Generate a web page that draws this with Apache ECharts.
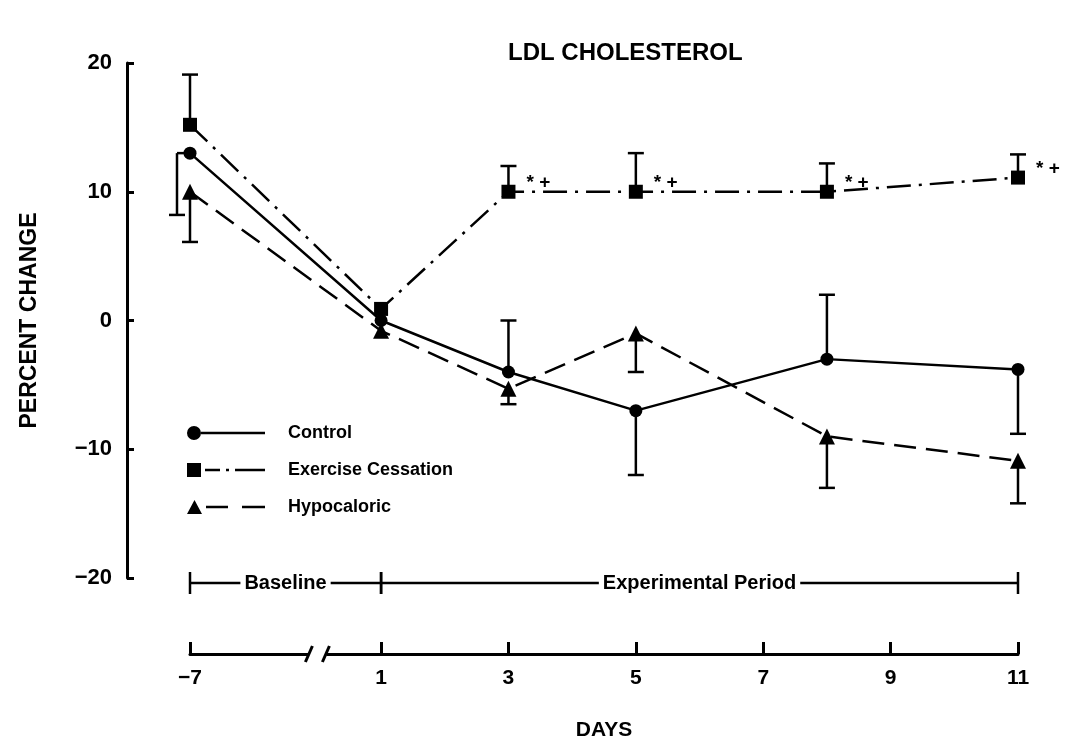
<!DOCTYPE html>
<html>
<head>
<meta charset="utf-8">
<title>LDL Cholesterol</title>
<script src="https://cdn.jsdelivr.net/npm/echarts@6/dist/echarts.min.js"></script>
<style>
  html, body { margin: 0; padding: 0; background: #fff; }
  #chart { width: 1080px; height: 749px; }
</style>
</head>
<body>
<div id="chart"></div>
<script>
// LDL cholesterol, percent change by day
var days = [-7, 1, 3, 5, 8, 11];
var dayTicks = [-7, 1, 3, 5, 7, 9, 11];
var control = [13, 0, -4, -7, -3, -3.8];
var controlErr = [8.2, null, 0, -12, 2, -8.8];
var exercise = [15.2, 0.9, 10, 10, 10, 11.1];
var exerciseErr = [19.1, null, 12, 13, 12.2, 12.9];
var hypo = [10, -0.8, -5.3, -1, -9, -10.9];
var hypoErr = [6.1, null, -6.5, -4, -13, -14.2];
var exerciseMarks = ['', '', '* +', '* +', '* +', '* +'];
var periods = [[-7, 1, 'Baseline'], [1, 11, 'Experimental Period']];

// the axis is broken between -7 and 1, so the baseline days are pulled in
function pos(d) { return d < 1 ? d + 5 : d; }
function minus(s) { return String(s).replace('-', '\u2212'); }

var FONT = '"Liberation Sans", Arial, sans-serif';
var AXIS_OFFSET = 76;

// legend keys drawn as marker first, then the line pattern (78 x 14 box)
var keyControl = 'path://M0,7 A7,7 0 1,0 14,7 A7,7 0 1,0 0,7 Z M14,5.8 L78,5.8 L78,8.2 L14,8.2 Z';
var keyExercise = 'path://M0,0 L14,0 L14,14 L0,14 Z M18,5.8 L33,5.8 L33,8.2 L18,8.2 Z ' +
  'M39,5.8 L42,5.8 L42,8.2 L39,8.2 Z M48,5.8 L78,5.8 L78,8.2 L48,8.2 Z';
var keyHypo = 'path://M7.5,0 L15,14 L0,14 Z M19,5.8 L41,5.8 L41,8.2 L19,8.2 Z M55,5.8 L78,5.8 L78,8.2 L55,8.2 Z';

function pairs(vals) {
  return days.map(function (d, i) { return [pos(d), vals[i]]; });
}

// one-sided error bars, from mean to end value
function errSeries(name, means, ends) {
  var data = [];
  days.forEach(function (d, i) {
    if (ends[i] != null) data.push([pos(d), means[i], ends[i]]);
  });
  return {
    type: 'custom',
    name: name + ' err',
    silent: true,
    z: 1,
    data: data,
    renderItem: function (params, api) {
      var p = api.coord([api.value(0), api.value(1)]);
      var e = api.coord([api.value(0), api.value(2)]);
      var dx = (name === 'Control' && api.value(0) === pos(-7)) ? -13 : 0;
      var st = { stroke: '#000', lineWidth: 2.5 };
      var kids = [
        { type: 'line', shape: { x1: p[0] + dx, y1: p[1], x2: e[0] + dx, y2: e[1] }, style: st },
        { type: 'line', shape: { x1: e[0] + dx - 8, y1: e[1], x2: e[0] + dx + 8, y2: e[1] }, style: st }
      ];
      if (dx) {
        kids.push({ type: 'line', shape: { x1: p[0] + dx, y1: p[1], x2: p[0], y2: p[1] }, style: st });
      }
      return { type: 'group', children: kids };
    }
  };
}

var chart = echarts.init(document.getElementById('chart'), null, { renderer: 'canvas' });
chart.setOption({
  animation: false,
  backgroundColor: '#fff',
  textStyle: { fontFamily: FONT },
  title: {
    text: 'LDL CHOLESTEROL',
    left: 503,
    top: 36,
    textStyle: { fontFamily: FONT, fontSize: 24, fontWeight: 'bold', color: '#000' }
  },
  legend: {
    data: [
      { name: 'Control', icon: keyControl },
      { name: 'Exercise Cessation', icon: keyExercise },
      { name: 'Hypocaloric', icon: keyHypo }
    ],
    orient: 'vertical',
    left: 182,
    top: 419,
    itemWidth: 78,
    itemHeight: 14,
    itemGap: 19,
    itemStyle: { borderWidth: 0 },
    textStyle: { fontFamily: FONT, fontSize: 18, fontWeight: 'bold', color: '#000', padding: [0, 0, 0, 18] }
  },
  grid: { left: 190, right: 62, top: 63, bottom: 171 },
  xAxis: {
    type: 'value',
    min: -2,
    max: 11,
    offset: AXIS_OFFSET,
    name: 'DAYS',
    nameLocation: 'middle',
    nameGap: 66,
    nameTextStyle: { fontFamily: FONT, fontSize: 21, fontWeight: 'bold', color: '#000' },
    axisLine: { onZero: false, lineStyle: { color: '#000', width: 3 } },
    axisTick: {
      inside: true, length: 12,
      customValues: dayTicks.map(pos),
      lineStyle: { color: '#000', width: 3 }
    },
    axisLabel: {
      customValues: dayTicks.map(pos),
      margin: 14,
      fontFamily: FONT, fontSize: 21, fontWeight: 'bold', color: '#000',
      formatter: function (v) { return minus(v < 1 ? v - 5 : v); }
    },
    splitLine: { show: false }
  },
  yAxis: {
    type: 'value',
    min: -20,
    max: 20,
    interval: 10,
    offset: 63,
    name: 'PERCENT CHANGE',
    nameLocation: 'middle',
    nameGap: 86,
    nameTextStyle: { fontFamily: FONT, fontSize: 23, fontWeight: 'bold', color: '#000' },
    axisLine: { show: true, onZero: false, lineStyle: { color: '#000', width: 3 } },
    axisTick: { show: true, inside: true, length: 7, lineStyle: { color: '#000', width: 3 } },
    axisLabel: {
      margin: 15,
      fontFamily: FONT, fontSize: 22, fontWeight: 'bold', color: '#000',
      formatter: function (v) { return minus(v); }
    },
    splitLine: { show: false }
  },
  series: [
    errSeries('Control', control, controlErr),
    errSeries('Exercise Cessation', exercise, exerciseErr),
    errSeries('Hypocaloric', hypo, hypoErr),
    {
      name: 'Control',
      type: 'line',
      data: pairs(control),
      symbol: 'circle',
      symbolSize: 13,
      z: 3,
      itemStyle: { color: '#000' },
      lineStyle: { color: '#000', width: 2.5, type: 'solid' }
    },
    {
      name: 'Exercise Cessation',
      type: 'line',
      data: pairs(exercise),
      symbol: 'rect',
      symbolSize: 14,
      z: 3,
      itemStyle: { color: '#000' },
      lineStyle: { color: '#000', width: 2.5, type: [24, 8, 3, 8] },
      label: {
        show: true,
        position: 'right',
        distance: 11,
        offset: [0, -9],
        fontFamily: FONT, fontSize: 19, fontWeight: 'bold', color: '#000',
        formatter: function (p) { return exerciseMarks[p.dataIndex]; }
      }
    },
    {
      name: 'Hypocaloric',
      type: 'line',
      data: pairs(hypo),
      symbol: 'triangle',
      symbolSize: 16,
      z: 3,
      itemStyle: { color: '#000' },
      lineStyle: { color: '#000', width: 2.5, type: [22, 10] }
    },
    {
      // Baseline / Experimental Period bracket along the bottom of the plot
      type: 'custom',
      name: 'periods',
      silent: true,
      z: 2,
      data: periods.map(function (p) { return [pos(p[0]), pos(p[1])]; }),
      renderItem: function (params, api) {
        var a = api.coord([api.value(0), -20]);
        var b = api.coord([api.value(1), -20]);
        var y = a[1] + 5;
        var st = { stroke: '#000', lineWidth: 2.5 };
        return {
          type: 'group',
          children: [
            { type: 'line', shape: { x1: a[0], y1: y, x2: b[0], y2: y }, style: st },
            { type: 'line', shape: { x1: a[0], y1: y - 11, x2: a[0], y2: y + 11 }, style: st },
            { type: 'line', shape: { x1: b[0], y1: y - 11, x2: b[0], y2: y + 11 }, style: st },
            {
              type: 'text', x: (a[0] + b[0]) / 2, y: y,
              style: {
                text: periods[params.dataIndex][2],
                align: 'center', verticalAlign: 'middle',
                font: 'bold 20px ' + FONT, fill: '#000',
                backgroundColor: '#fff', padding: [0, 4]
              }
            }
          ]
        };
      }
    },
    {
      // the // mark where the day axis is broken
      type: 'custom',
      name: 'axisBreak',
      silent: true,
      z: 4,
      data: [[0]],
      renderItem: function (params, api) {
        var c = api.coord([api.value(0), -20]);
        var y = c[1] + AXIS_OFFSET;
        var st = { stroke: '#000', lineWidth: 3 };
        return {
          type: 'group',
          children: [
            { type: 'rect', shape: { x: c[0] - 9, y: y - 4, width: 18, height: 8 }, style: { fill: '#fff' } },
            { type: 'line', shape: { x1: c[0] - 12, y1: y + 8, x2: c[0] - 5, y2: y - 8 }, style: st },
            { type: 'line', shape: { x1: c[0] + 5, y1: y + 8, x2: c[0] + 12, y2: y - 8 }, style: st }
          ]
        };
      }
    }
  ]
});
window.addEventListener('resize', function () { chart.resize(); });
</script>
</body>
</html>
